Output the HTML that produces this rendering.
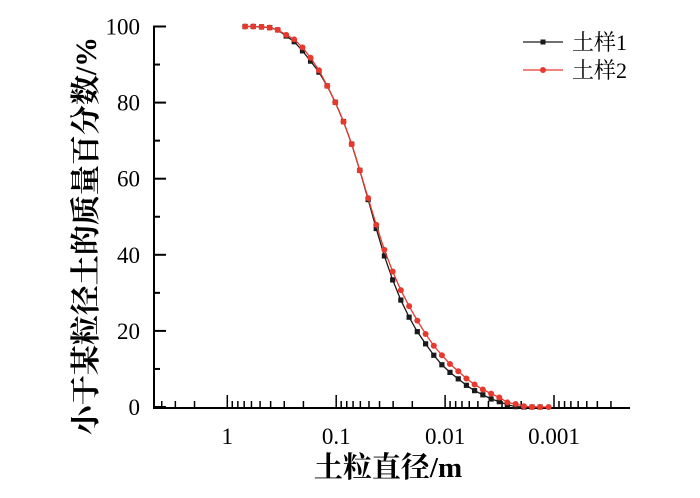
<!DOCTYPE html>
<html><head><meta charset="utf-8"><style>
body{margin:0;background:#fff;width:700px;height:493px;overflow:hidden}
svg text{font-family:"Liberation Serif","Noto Serif CJK SC",serif}
</style></head><body>
<svg id="chart" width="700" height="493" xmlns="http://www.w3.org/2000/svg"></svg>
<script>
const diameters=[0.687,0.578,0.485,0.408,0.344,0.288,0.243,0.204,0.172,0.144,0.121,0.102,0.0857,0.0721,0.0607,0.0509,0.0429,0.0361,0.0303,0.0255,0.0214,0.0180,0.0151,0.0127,0.0107,0.00902,0.00757,0.00637,0.00536,0.00450,0.00378,0.00318,0.00268,0.00225,0.00189,0.00159,0.00134,0.00112];
const sample1=[100,100,99.9,99.7,99.1,97.5,96,93.6,90.9,88.0,84.4,80.1,75.0,69.1,62.2,54.5,46.9,39.7,33.4,28.1,23.6,19.8,16.6,13.6,11.1,9.1,7.4,5.7,4.3,3.2,2.1,1.4,0.6,0.1,0,0,0];
const sample2=[100,100,99.9,99.7,99.1,97.8,96.6,94.5,91.8,88.5,84.4,80.1,75.0,69.1,62.2,54.9,47.9,41.3,35.6,30.7,26.5,22.7,19.2,16.1,13.6,11.3,9.4,7.5,5.9,4.6,3.5,2.5,1.2,0.8,0.2,0,0,0];
const xTicks=[1,0.1,0.01,0.001];
const xTickLabels=["1","0.1","0.01","0.001"];
const yTicks=[0,20,40,60,80,100];
const svg=document.getElementById('chart');
const NS='http://www.w3.org/2000/svg';
const X0=154,X1=630,Y0=407;
function xs(d){return 227.3-108.9*Math.log10(d);}
function ys(v){return Y0-3.805*v;}
function el(t,a,p){const e=document.createElementNS(NS,t);for(const k in a)e.setAttribute(k,a[k]);(p||svg).appendChild(e);return e;}
const ax=el('path',{d:`M${X0},${ys(100)-1}V${Y0+1}H${X1}`,stroke:'#000','stroke-width':2,fill:'none'});


yTicks.forEach(v=>{
  const t=el('line',{x1:X0,x2:X0+12,y1:ys(v),y2:ys(v),stroke:'#000','stroke-width':2});
  
  
  const l=el('text',{x:140,y:ys(v)+8,'text-anchor':'end','font-size':23});
  l.textContent=v;
  
  
  if(v<100){const m=el('line',{x1:X0,x2:X0+6,y1:ys(v+10),y2:ys(v+10),stroke:'#000','stroke-width':2});
  
  }
});
for(let e=1;e>=-4;e--){for(let k=1;k<10;k++){const d=k*Math.pow(10,e-1);const x=xs(d);if(x<X0||x>X1)continue;
  const t=el('line',{x1:x,x2:x,y1:Y0,y2:Y0-(k==1?12:6),stroke:'#000','stroke-width':1.5});
  
  }}
xTicks.forEach((d,i)=>{const l=el('text',{x:xs(d),y:444,'text-anchor':'middle','font-size':23});
  l.textContent=xTickLabels[i];
  
  });
function series(vals,color,shape,name){
  const g=el('g',{});
  
  
  el('polyline',{points:vals.map((v,i)=>xs(diameters[i])+','+ys(v)).join(' '),fill:'none',stroke:color,'stroke-width':1.3},g);
  vals.forEach((v,i)=>{const x=xs(diameters[i]),y=ys(v);let m;
    if(shape=='sq')m=el('rect',{x:x-2.6,y:y-2.6,width:5.2,height:5.2,fill:color},g);
    else m=el('circle',{cx:x,cy:y,r:3,fill:color},g);
    
    });
}
series(sample1,'#1a1a1a','sq','series-sample1');
series(sample2,'#e8392e','ci','series-sample2');
[['#1a1a1a','sq','土样1',42],['#e8392e','ci','土样2',70]].forEach(([c,s,t,y])=>{
  const g=el('g',{});
  
  
  el('line',{x1:523,x2:563,y1:y,y2:y,stroke:c,'stroke-width':1.3},g);
  if(s=='sq')el('rect',{x:540.5,y:y-2.5,width:5,height:5,fill:c},g);else el('circle',{cx:543,cy:y,r:3,fill:c},g);
  const tx=el('text',{x:572,y:y+8,'font-size':22},g);tx.textContent=t;
});
const xt=el('text',{x:388,y:477,'text-anchor':'middle','font-size':29,'font-weight':'bold'});
xt.textContent='土粒直径/m';


const yt=el('text',{x:0,y:0,'text-anchor':'middle','font-size':30,'font-weight':'bold',transform:'translate(96,236) rotate(-90)'});
yt.textContent='小于某粒径土的质量百分数/%';


</script>
</body></html>
